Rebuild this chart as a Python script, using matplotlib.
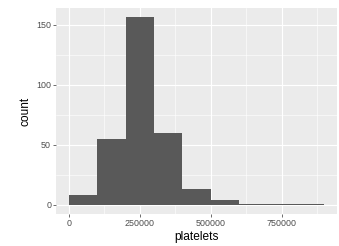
import numpy as np
import matplotlib.pyplot as plt
from matplotlib.ticker import MultipleLocator

plt.rcParams['font.family'] = ['Liberation Sans', 'DejaVu Sans']

# histogram of platelets, binwidth 100000
bin_edges = [0, 100000, 200000, 300000, 400000, 500000, 600000, 700000, 800000, 900000]
counts = [8, 55, 156, 60, 13, 4, 1, 1, 1]

fig = plt.figure(figsize=(3.39, 2.46), dpi=100)
ax = fig.add_axes([56 / 339, 1 - 214.3 / 246, 281 / 339, 206.3 / 246])

ax.set_facecolor('#EBEBEB')
for s in ax.spines.values():
    s.set_visible(False)

lefts = np.array(bin_edges[:-1])
widths = np.diff(bin_edges)
ax.bar(lefts, counts, width=widths, align='edge', color='#595959', linewidth=0, zorder=3)

xr = bin_edges[-1] - bin_edges[0]
ax.set_xlim(bin_edges[0] - 0.05 * xr, bin_edges[-1] + 0.05 * xr)
ymax = max(counts)
ax.set_ylim(-0.05 * ymax, ymax * 1.05)

ax.xaxis.set_major_locator(MultipleLocator(250000))
ax.xaxis.set_minor_locator(MultipleLocator(125000))
ax.yaxis.set_major_locator(MultipleLocator(50))
ax.yaxis.set_minor_locator(MultipleLocator(25))
ax.xaxis.set_major_formatter(lambda v, p: f'{int(v)}')

ax.grid(which='major', color='white', linewidth=0.8, zorder=0)
ax.grid(which='minor', color='white', linewidth=0.4, zorder=0)
ax.set_axisbelow(True)

ax.tick_params(which='major', length=2, width=0.5, color='#333333',
               labelsize=6.4, labelcolor='#4D4D4D', pad=1.5)
ax.tick_params(which='minor', length=0)

ax.set_xlabel('platelets', fontsize=8.6, labelpad=2)
ax.set_ylabel('count', fontsize=8.6, labelpad=3)

fig.savefig('out.png', dpi=100)
plt.close(fig)
